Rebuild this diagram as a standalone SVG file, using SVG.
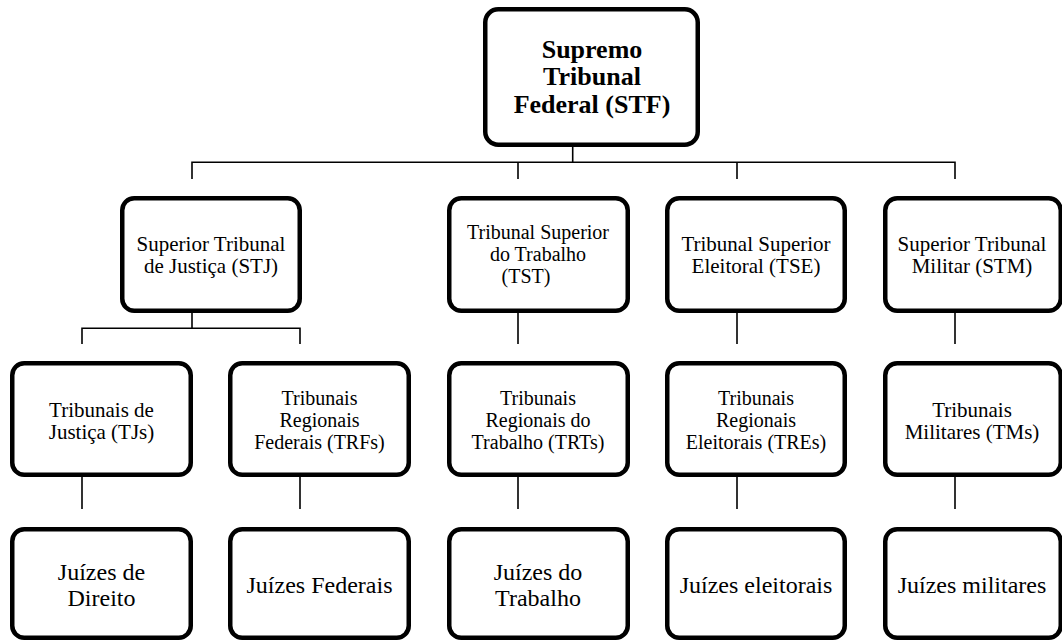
<svg xmlns="http://www.w3.org/2000/svg" width="1062" height="641" viewBox="0 0 1062 641">
<style>
.box{fill:#fff;stroke:#000;stroke-width:4.5}
text{fill:#000;text-anchor:middle}
.t{font-size:21px}
.t3{font-size:20px}
.b{font-size:26px;font-weight:bold}
.j{font-size:24px}
.c{fill:none;stroke:#000;stroke-width:1.6}
</style>
<rect width="1062" height="641" fill="#fff"/>
<g id="connectors">
<path class="c" d="M572.7 147V162.3" stroke-width="2"/>
<path class="c" d="M192 179V162.3H955V179M518 162.3V179M737 162.3V179"/>
<path class="c" d="M192 313V328.3M82 344V328.3H300V344"/>
<path class="c" d="M518 313V344M737 313V344M955 313V344"/>
<path class="c" d="M82 477V509M300 477V509M518 477V509M737 477V509M955 477V509" stroke-width="1.8"/>
</g>
<g font-family="Liberation Serif, Times New Roman, serif">
<g id="stf">
<rect class="box" x="485.25" y="9.25" width="212.5" height="135.5" rx="13"/>
<text class="b" x="592" y="58">Supremo</text>
<text class="b" x="592" y="85">Tribunal</text>
<text class="b" x="592" y="112.5">Federal (STF)</text>
</g>
<g id="stj">
<rect class="box" x="122.25" y="198.25" width="177.5" height="112.5" rx="12"/>
<text class="t" x="211" y="251">Superior Tribunal</text>
<text class="t" x="211" y="273">de Justiça (STJ)</text>
</g>
<g id="tst">
<rect class="box" x="449.25" y="198.25" width="178.5" height="112.5" rx="12"/>
<text class="t3" x="538" y="239">Tribunal Superior</text>
<text class="t3" x="538" y="261">do Trabalho</text>
<text class="t3" x="526" y="283">(TST)</text>
</g>
<g id="tse">
<rect class="box" x="667.25" y="198.25" width="177.5" height="112.5" rx="12"/>
<text class="t" x="756" y="251">Tribunal Superior</text>
<text class="t" x="756" y="273">Eleitoral (TSE)</text>
</g>
<g id="stm">
<rect class="box" x="885.25" y="198.25" width="175.5" height="112.5" rx="12"/>
<text class="t" x="972" y="251">Superior Tribunal</text>
<text class="t" x="972" y="273">Militar (STM)</text>
</g>
<g id="tjs">
<rect class="box" x="12.25" y="363.25" width="178.5" height="111.5" rx="12"/>
<text class="t" x="101.5" y="416.5">Tribunais de</text>
<text class="t" x="101.5" y="438.5">Justiça (TJs)</text>
</g>
<g id="trfs">
<rect class="box" x="230.25" y="363.25" width="178.5" height="111.5" rx="12"/>
<text class="t3" x="319.5" y="405">Tribunais</text>
<text class="t3" x="319.5" y="427">Regionais</text>
<text class="t3" x="319.5" y="449">Federais (TRFs)</text>
</g>
<g id="trts">
<rect class="box" x="449.25" y="363.25" width="178.5" height="111.5" rx="12"/>
<text class="t3" x="538" y="405">Tribunais</text>
<text class="t3" x="538" y="427">Regionais do</text>
<text class="t3" x="538" y="449">Trabalho (TRTs)</text>
</g>
<g id="tres">
<rect class="box" x="667.25" y="363.25" width="177.5" height="111.5" rx="12"/>
<text class="t3" x="756" y="405">Tribunais</text>
<text class="t3" x="756" y="427">Regionais</text>
<text class="t3" x="756" y="449">Eleitorais (TREs)</text>
</g>
<g id="tms">
<rect class="box" x="885.25" y="363.25" width="175.5" height="111.5" rx="12"/>
<text class="t" x="972" y="416.5">Tribunais</text>
<text class="t" x="972" y="438.5">Militares (TMs)</text>
</g>
<g id="juizes-direito">
<rect class="box" x="12.25" y="529.25" width="178.5" height="108.5" rx="12"/>
<text class="j" x="101.5" y="580">Juízes de</text>
<text class="j" x="101.5" y="606">Direito</text>
</g>
<g id="juizes-federais">
<rect class="box" x="230.25" y="529.25" width="178.5" height="108.5" rx="12"/>
<text class="j" x="319.5" y="593">Juízes Federais</text>
</g>
<g id="juizes-trabalho">
<rect class="box" x="449.25" y="529.25" width="178.5" height="108.5" rx="12"/>
<text class="j" x="538" y="580">Juízes do</text>
<text class="j" x="538" y="606">Trabalho</text>
</g>
<g id="juizes-eleitorais">
<rect class="box" x="667.25" y="529.25" width="177.5" height="108.5" rx="12"/>
<text class="j" x="756" y="593">Juízes eleitorais</text>
</g>
<g id="juizes-militares">
<rect class="box" x="885.25" y="529.25" width="175.5" height="108.5" rx="12"/>
<text class="j" x="972" y="593">Juízes militares</text>
</g>
</g>
</svg>
